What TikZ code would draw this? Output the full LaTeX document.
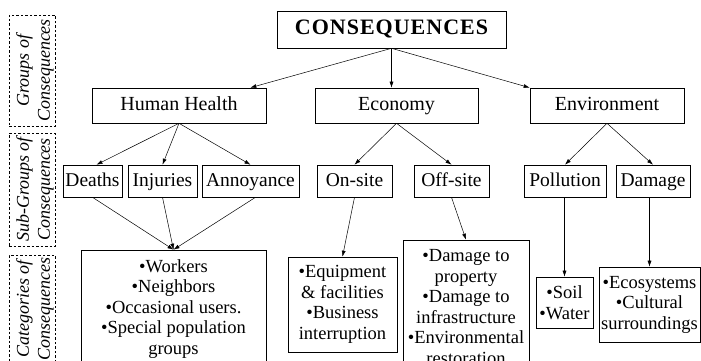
\documentclass[tikz,border=0pt]{standalone}
\usepackage{fontspec}
\setmainfont{Liberation Serif}
\usetikzlibrary{arrows.meta}
\begin{document}
\begin{tikzpicture}[x=1pt,y=-1pt,
  box/.style={draw, line width=0.6pt, inner sep=0pt, align=center, anchor=center},
  one/.style={text height=1em, text depth=0em},
  grp/.style={box, one, font=\fontsize{20}{22}\selectfont},
  sub/.style={box, one, font=\fontsize{19.5}{21}\selectfont},
  cat/.style={box, font=\fontsize{18.5}{20.5}\selectfont},
  side/.style={draw, dashed, dash pattern=on 2.5pt off 2pt, line width=0.6pt, inner sep=0pt, anchor=center},
  sidetxt/.style={rotate=90, align=center, font=\fontsize{18}{21}\selectfont\itshape, inner sep=0pt},
  arr/.style={line width=0.5pt, -{Latex[length=6pt,width=4pt]}}]
\useasboundingbox (0,0) rectangle (701,361);
\clip (0,0) rectangle (701,361);
% side labels
\node[side, minimum width=46pt, minimum height=111pt] (g1) at (32,70.5) {};
\node[sidetxt] (g1t) at (35,70.5) {Groups of\\Consequences};
\node[side, minimum width=46pt, minimum height=113pt] (g2) at (32,189.5) {};
\node[sidetxt] (g2t) at (35,189.5) {Sub-Groups of\\Consequences};
\node[side, minimum width=46pt, minimum height=115pt] (g3) at (32,312.5) {};
\node[sidetxt] (g3t) at (35,309) {Categories of\\Consequences};
% top
\node[box, one, minimum width=229pt, minimum height=37pt, font=\fontsize{22}{24}\selectfont\bfseries] (cons) at (391.5,29.5) {C\hspace{1pt}O\hspace{1pt}N\hspace{1pt}S\hspace{1pt}E\hspace{1pt}Q\hspace{1pt}U\hspace{1pt}E\hspace{1pt}N\hspace{1pt}C\hspace{1pt}E\hspace{1pt}S};
% groups
\node[grp, minimum width=174pt, minimum height=35pt] (hh) at (179,105.5) {Human Health};
\node[grp, minimum width=163pt, minimum height=35pt] (eco) at (396.5,105.5) {Economy};
\node[grp, minimum width=154pt, minimum height=35pt] (env) at (607,105.5) {Environment};
% subgroups
\node[sub, minimum width=59pt, minimum height=32pt] (deaths) at (92.5,181) {Deaths};
\node[sub, minimum width=69pt, minimum height=32pt] (inj) at (162.5,181) {Injuries};
\node[sub, minimum width=97pt, minimum height=32pt] (ann) at (250.5,181) {Annoyance};
\node[sub, minimum width=75pt, minimum height=32pt] (onsite) at (354.5,181) {On-site};
\node[sub, minimum width=75pt, minimum height=32pt] (offsite) at (451.5,181) {Off-site};
\node[sub, minimum width=82pt, minimum height=32pt] (poll) at (565,181) {Pollution};
\node[sub, minimum width=74pt, minimum height=32pt] (dam) at (653,181) {Damage};
% categories
\node[cat, minimum width=185pt, minimum height=118pt] (people) at (173.5,309) {•Workers\\•Neighbors\\•Occasional users.\\•Special population\\groups};
\node[cat, minimum width=109pt, minimum height=95pt] (equip) at (342.5,304.5) {•Equipment\\\& facilities\\•Business\\interruption};
\node[cat, minimum width=126pt, minimum height=134pt] (dmg) at (466,307) {•Damage to\\property\\•Damage to\\infrastructure\\•Environmental\\restoration};
\node[cat, minimum width=57pt, minimum height=51pt] (soil) at (564.5,302.5) {•Soil\\•Water};
\node[cat, minimum width=101pt, minimum height=75pt] (ecosys) at (649.5,304.5) {•Ecosystems\\•Cultural\\surroundings};
% connectors
\draw[arr] (cons.south) -- ([xshift=-16pt]hh.north east);
\draw[arr] (cons.south) -- (cons.south |- eco.north);
\draw[arr] (cons.south) -- (env.north west);
\draw[arr] (hh.south) -- ([xshift=4pt]deaths.north);
\draw[arr] (hh.south) -- (inj.north);
\draw[arr] (hh.south) -- (ann.north);
\draw[arr] (eco.south) -- (onsite.north);
\draw[arr] (eco.south) -- (offsite.north);
\draw[arr] (env.south) -- (poll.north);
\draw[arr] (env.south) -- (dam.north);
\draw[arr] (deaths.south) -- (people.north);
\draw[arr] (inj.south) -- (people.north);
\draw[arr] ([xshift=5pt]ann.south) -- (people.north);
\draw[arr] (onsite.south) -- (equip.north);
\draw[arr] (offsite.south) -- (dmg.north);
\draw[arr] (soil.north |- poll.south) -- (soil.north);
\draw[arr] (ecosys.north |- dam.south) -- (ecosys.north);
\end{tikzpicture}
\end{document}
